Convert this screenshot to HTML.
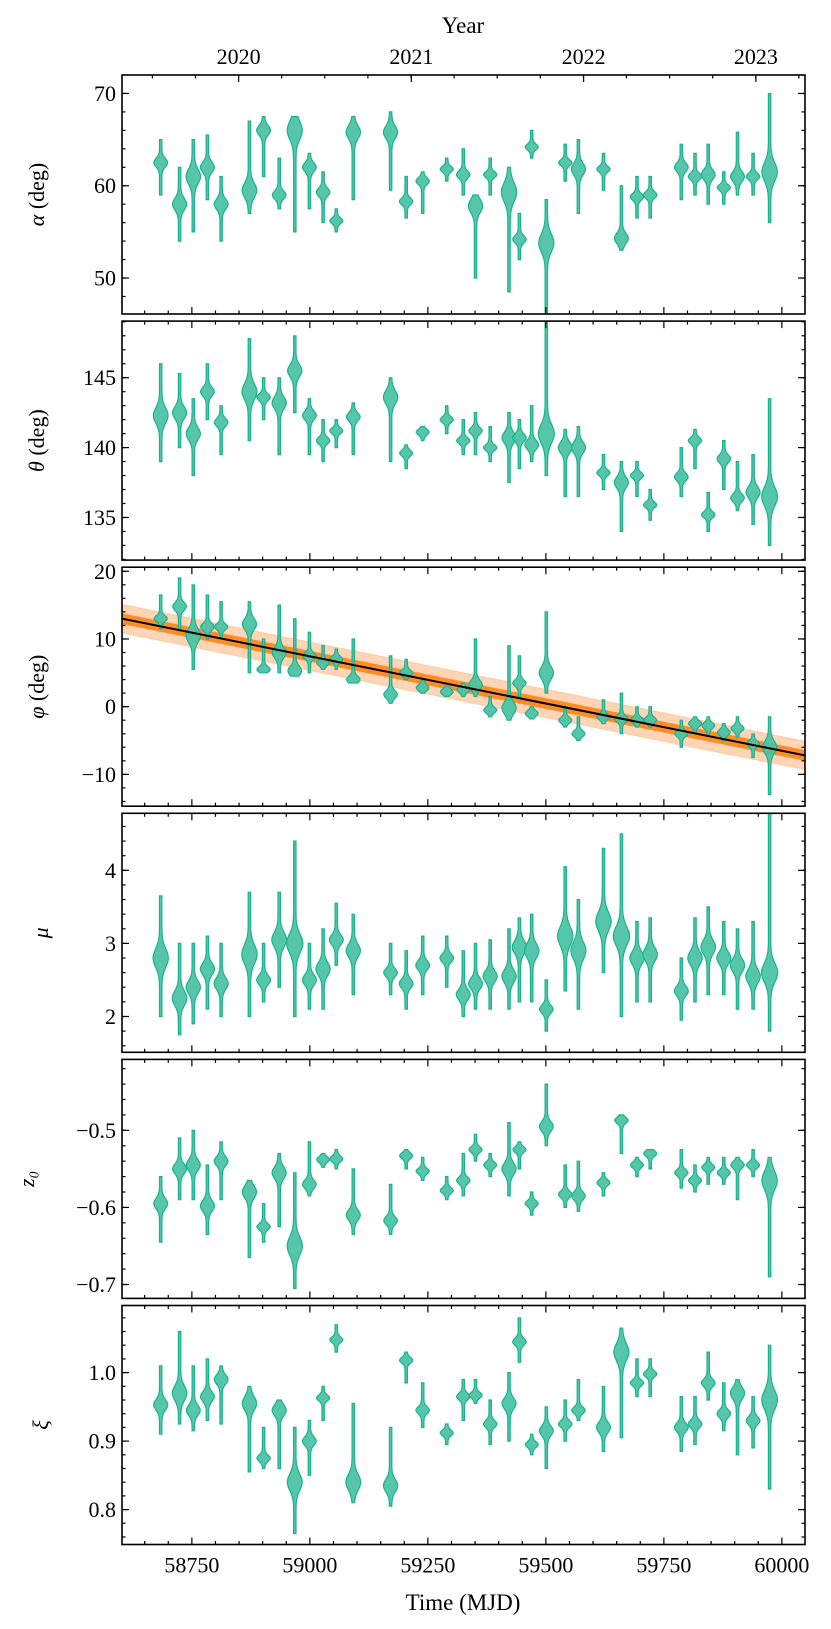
<!DOCTYPE html>
<html><head><meta charset="utf-8"><style>
html,body{margin:0;padding:0;background:#fff}
svg{display:block}
text{font-family:"Liberation Serif","DejaVu Serif",serif;fill:#000}
</style></head><body>
<svg id="fig" width="831" height="1629" viewBox="0 0 831 1629" xmlns="http://www.w3.org/2000/svg"></svg>
<script>
const mjd=[58684,58724,58753,58783,58812,58872,58902,58935,58968,58999,59028,59056,59092,59171,59204,59239,59290,59325,59351,59382,59422,59444,59470,59501,59541,59569,59622,59660,59693,59721,59787,59816,59844,59877,59906,59939,59974];
const alphaMed=[62.5,58,61,62,58,59.5,66,59,66,62,59.3,56.2,65.8,65.8,58.3,60.5,61.8,61.2,57.8,61.2,59.3,54.2,64.2,53.8,62.5,61.8,61.8,54.3,58.8,59,62,61,61.2,59.8,61,61,61.5];
const alphaLo=[59,54,55,58.5,54,57,61,57.5,55,57.5,56,55,58.5,59.5,56.5,57,60.5,59,50,59,48.5,52,63,46,60.5,57,59.5,53,56.5,56.5,58.5,59,58,58,59,59,56];
const alphaHi=[65,62,65,65.5,61,67,67.5,63,67.5,63.5,61.5,57.5,67.5,68,61,61.5,63,64,59,63,62,57,66,58.5,64.5,65,63.5,60,61,61,64.5,63.5,64.5,61.5,65.8,63.5,70];
const thetaMed=[142.3,142.5,141,144,141.8,144,143.6,143.2,145.5,142.3,140.5,141.2,142.2,143.6,139.6,141.1,142,140.5,141.2,140,140.7,140.7,140.2,141,140,140,138.2,137.5,138,135.9,137.9,140.5,135.2,139.2,136.4,136.8,136.5];
const thetaLo=[139,140,138,142,139.5,140.5,142,139.5,142.5,139.5,139,140,139.5,139,138.5,140.5,141,139.5,139.5,139,137.5,138.5,139,138,136.5,136.5,137,134,136.5,134.8,136.5,138.5,134,137,135.5,134.5,133];
const thetaHi=[146,145.3,143.5,146,143,147.8,145,145,148,143.5,142,142,143.2,145,140.2,141.5,143,142,142.5,141.5,142.5,142,143,149,141.3,141.5,139.5,139,139,137,140,141.3,136.8,140.5,139,139.5,143.5];
const phiMed=[13,14.8,10.5,11.8,11.8,12.2,5.5,8,5.3,7.5,6.5,7,4,1.8,5,2.8,2.2,2.5,3.2,-0.5,-0.2,3.5,-1,5,-2,-4,-1.5,-1.8,-2,-2,-4,-2.5,-2.8,-3.8,-3.2,-5.5,-6];
const phiLo=[11.5,11.5,5.5,10,10,5,5,5,4.5,5,5.5,5.5,3.5,0.5,4,2,1.5,1.5,1.5,-1.5,-2,1.5,-1.8,2,-3,-5,-2.5,-4,-3,-3,-6,-4,-4,-5,-4.5,-7.5,-13];
const phiHi=[16.5,19,18,16.5,15.5,15.5,10,15,13,11,9,8.5,10,7.5,7,4,3,3.5,10,1.5,9,7.5,0,14,0,-1.5,1,2,0,0,-2,-1.5,-1.5,-2.5,-1.5,-4,-1.5];
const muMed=[2.8,2.25,2.4,2.65,2.45,2.85,2.5,3.05,3,2.5,2.65,3.05,2.9,2.6,2.45,2.7,2.8,2.3,2.45,2.55,2.55,2.95,2.9,2.1,3.1,2.9,3.3,3.1,2.8,2.85,2.35,2.8,2.95,2.8,2.7,2.55,2.6];
const muLo=[2,1.75,1.9,2.1,2,2,2.2,2.4,2,2.1,2.1,2.7,2.3,2.3,2.1,2.3,2.4,2,2.1,2.1,2.1,2.2,2.2,1.8,2.35,2.1,2.6,2,2.2,2.2,1.95,2.2,2.3,2.3,2.1,2.1,1.8];
const muHi=[3.65,3,3,3.1,3,3.7,3,3.7,4.4,3,3.2,3.55,3.4,3,2.9,3.1,3.1,2.9,3,3.05,3.2,3.35,3.4,2.5,4.05,3.6,4.3,4.5,3.3,3.35,2.8,3.35,3.5,3.3,3.2,3.3,4.8];
const z0Med=[-0.595,-0.55,-0.545,-0.598,-0.54,-0.58,-0.625,-0.555,-0.65,-0.57,-0.538,-0.537,-0.61,-0.617,-0.533,-0.553,-0.578,-0.565,-0.525,-0.545,-0.55,-0.525,-0.595,-0.495,-0.583,-0.585,-0.568,-0.487,-0.545,-0.53,-0.555,-0.565,-0.548,-0.555,-0.545,-0.545,-0.565];
const z0Lo=[-0.645,-0.59,-0.59,-0.635,-0.59,-0.665,-0.645,-0.625,-0.705,-0.585,-0.548,-0.55,-0.635,-0.635,-0.55,-0.565,-0.59,-0.585,-0.54,-0.56,-0.585,-0.55,-0.61,-0.52,-0.6,-0.605,-0.585,-0.53,-0.56,-0.55,-0.575,-0.58,-0.57,-0.57,-0.59,-0.56,-0.69];
const z0Hi=[-0.56,-0.51,-0.5,-0.545,-0.515,-0.565,-0.595,-0.53,-0.555,-0.515,-0.53,-0.525,-0.55,-0.57,-0.525,-0.535,-0.56,-0.53,-0.505,-0.53,-0.49,-0.515,-0.58,-0.44,-0.545,-0.54,-0.555,-0.48,-0.535,-0.525,-0.525,-0.545,-0.535,-0.535,-0.535,-0.525,-0.535];
const xiMed=[0.953,0.97,0.945,0.965,0.99,0.955,0.875,0.945,0.84,0.9,0.963,1.048,0.84,0.835,1.018,0.945,0.912,0.965,0.967,0.925,0.955,1.045,0.895,0.915,0.925,0.945,0.92,1.03,0.985,0.998,0.92,0.925,0.985,0.94,0.97,0.93,0.96];
const xiLo=[0.91,0.925,0.915,0.93,0.925,0.855,0.86,0.86,0.765,0.85,0.93,1.03,0.81,0.805,0.985,0.92,0.895,0.93,0.955,0.895,0.9,1.015,0.88,0.86,0.9,0.93,0.885,0.905,0.965,0.965,0.885,0.895,0.96,0.915,0.88,0.89,0.83];
const xiHi=[1.01,1.06,1.01,1.02,1.01,0.98,0.92,0.96,0.92,0.93,0.98,1.07,0.955,0.92,1.03,0.985,0.925,0.99,0.99,0.96,1.0,1.08,0.91,0.95,0.96,0.99,0.98,1.065,1.02,1.02,0.965,0.965,1.03,0.985,0.99,0.965,1.04];
const xTicks=[58750,59000,59250,59500,59750,60000];
const yearTicks=[2020,2021,2022,2023];
const yearMjd=[58849,59215,59580,59945];
const fitStart=[58602,13.0];
const fitEnd=[60049,-7.2];

const NS="http://www.w3.org/2000/svg";
const svg=document.getElementById('fig');
const L=122,R=805,X0=58602,X1=60049;
function X(v){return L+(v-X0)/(X1-X0)*(R-L);}
function mk(tag,attrs,parent){const e=document.createElementNS(NS,tag);for(const k in attrs)e.setAttribute(k,attrs[k]);(parent||svg).appendChild(e);return e;}

const panels=[
 {name:'alpha',g:'α',rest:' (deg)',min:46.1,max:72,major:[50,60,70],minor:2,fmt:v=>String(v),med:alphaMed,lo:alphaLo,hi:alphaHi},
 {name:'theta',g:'θ',rest:' (deg)',min:131.95,max:149.05,major:[135,140,145],minor:1,fmt:v=>String(v),med:thetaMed,lo:thetaLo,hi:thetaHi},
 {name:'phi',g:'φ',rest:' (deg)',min:-14.7,max:20.6,major:[-10,0,10,20],minor:2,fmt:v=>v<0?'−'+(-v):String(v),med:phiMed,lo:phiLo,hi:phiHi},
 {name:'mu',g:'μ',rest:'',min:1.51,max:4.78,major:[2,3,4],minor:0.2,fmt:v=>String(v),med:muMed,lo:muLo,hi:muHi},
 {name:'z0',g:'z₀',rest:'',min:-0.718,max:-0.408,major:[-0.7,-0.6,-0.5],minor:0.02,fmt:v=>'−'+(-v).toFixed(1),med:z0Med,lo:z0Lo,hi:z0Hi},
 {name:'xi',g:'ξ',rest:'',min:0.749,max:1.098,major:[0.8,0.9,1.0],minor:0.02,fmt:v=>v.toFixed(1),med:xiMed,lo:xiLo,hi:xiHi}
];

panels.forEach((p,i)=>{
  const top=75+i*246.1, h=239, bot=top+h;
  const g=mk('g',{});
  
  
  const Y=v=>bot-(v-p.min)/(p.max-p.min)*h;
  const cp=mk('clipPath',{id:'c'+i},g);
  mk('rect',{x:L,y:top,width:R-L,height:h},cp);
  const plot=mk('g',{'clip-path':'url(#c'+i+')'},g);
  if(p.name==='phi'){
    const x1=X(fitStart[0]),x2=X(fitEnd[0]),y1=fitStart[1],y2=fitEnd[1];
    const band=(d,fill,op,nm)=>{const b=mk('polygon',{points:`${x1},${Y(y1+d)} ${x2},${Y(y2+d)} ${x2},${Y(y2-d)} ${x1},${Y(y1-d)}`,fill:fill,'fill-opacity':op,stroke:fill,'stroke-opacity':0.5,'stroke-width':1},plot);};
    band(2.1,'#ffb27a',0.55,'fit-band-outer');
    band(0.75,'#ff7f0e',0.85,'fit-band-inner');
  }
  p.med.forEach((m,j)=>{
    const lo=p.lo[j],hi=p.hi[j];
    const cx=X(mjd[j]);
    const yl=Y(lo),yh=Y(hi),ym=Y(m);
    const span=yl-yh;
    const s=Math.max(4,Math.min(13,span*0.11));
    const W=Math.min(7,5+span*0.012);
    const pts=[];const N=50;
    for(let k=0;k<=N;k++){const y=yh+(yl-yh)*k/N;const w=1.2+W*Math.exp(-Math.pow((y-ym)/s,2));pts.push([cx+w,y]);}
    const left=pts.slice().reverse().map(q=>[2*cx-q[0],q[1]]);
    const d='M'+pts.concat(left).map(q=>q[0].toFixed(1)+','+q[1].toFixed(1)).join('L')+'Z';
    const v=mk('path',{d:d,fill:'#4cc3a5','fill-opacity':0.95,stroke:'#1cb28e','stroke-width':1.2},plot);
    
    
  });
  if(p.name==='phi'){
    const ln=mk('line',{x1:X(fitStart[0]),y1:Y(fitStart[1]),x2:X(fitEnd[0]),y2:Y(fitEnd[1]),stroke:'#000','stroke-width':2},plot);
    
    
  }
  const fr=mk('rect',{x:L,y:top,width:R-L,height:h,fill:'none',stroke:'#000','stroke-width':1.6},g);
  
  
  const ax=mk('g',{stroke:'#000','stroke-width':1.2},g);
  
  
  const start=Math.ceil(p.min/p.minor-1e-6);
  for(let k=start;k*p.minor<=p.max+1e-9;k++){const v=k*p.minor,y=Y(v);mk('line',{x1:L,y1:y,x2:L+3.5,y2:y},ax);mk('line',{x1:R,y1:y,x2:R-3.5,y2:y},ax);}
  p.major.forEach(v=>{const y=Y(v);mk('line',{x1:L,y1:y,x2:L+7,y2:y},ax);mk('line',{x1:R,y1:y,x2:R-7,y2:y},ax);
    const t=mk('text',{x:L-6,y:y+7.5,'text-anchor':'end','font-size':22},g);t.textContent=p.fmt(v);
    });
  const lab=mk('text',{x:0,y:0,'text-anchor':'middle','font-size':22,transform:`translate(${i==4?34:i==3||i==5?48:44},${top+h/2}) rotate(-90)`},g);
  const ts=mk('tspan',{'font-style':'italic'},lab);ts.textContent=p.g;
  if(p.rest){const t2=mk('tspan',{},lab);t2.textContent=p.rest;}
  
  
  for(let v=58650;v<=X1;v+=50){const x=X(v);const big=(v%250===0);const ln=big?7:3.5;
    mk('line',{x1:x,y1:bot,x2:x,y2:bot-ln},ax);
    if(i>0) mk('line',{x1:x,y1:top,x2:x,y2:top+ln},ax);}
  if(i===0){yearMjd.forEach(m=>mk('line',{x1:X(m),y1:top,x2:X(m),y2:top+7},ax));
    for(let m=58849-365.25;m<X1;m+=365.25/4){if(m>X0)mk('line',{x1:X(m),y1:top,x2:X(m),y2:top+3.5},ax);}}
  if(i===5){xTicks.forEach(v=>{const t=mk('text',{x:X(v),y:bot+28,'text-anchor':'middle','font-size':22},g);t.textContent=v;});}
});
yearTicks.forEach((yr,k)=>{const t=mk('text',{x:X(yearMjd[k]),y:64,'text-anchor':'middle','font-size':22});t.textContent=yr;
  });
const yt=mk('text',{x:463,y:33,'text-anchor':'middle','font-size':23});yt.textContent='Year';

const xt=mk('text',{x:463,y:1610,'text-anchor':'middle','font-size':23});xt.textContent='Time (MJD)';

</script>
</body></html>
